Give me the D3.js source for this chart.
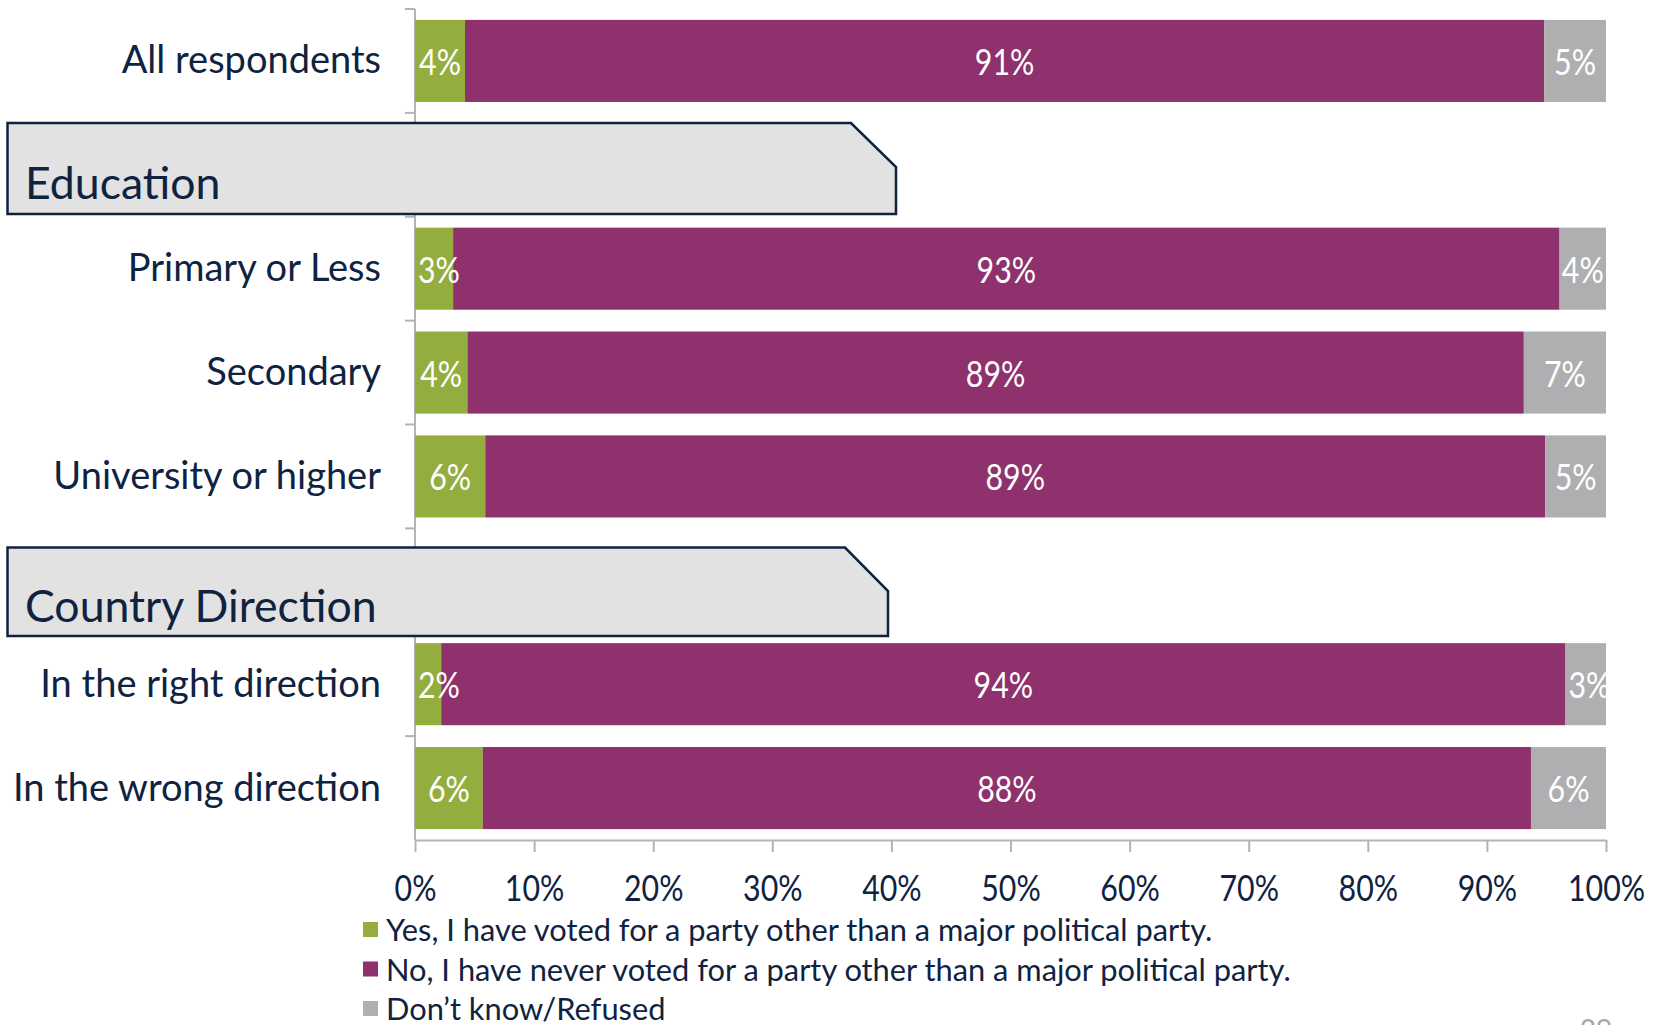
<!DOCTYPE html>
<html><head><meta charset="utf-8">
<script src="https://cdn.jsdelivr.net/npm/d3@7"></script>
<style>body{margin:0;background:#fff;} svg{display:block;}</style>
</head><body>
<svg id="chart" width="1667" height="1025"></svg>
<script>
// ---------- data ----------
const rows = ["All respondents","Education","Primary or Less","Secondary","University or higher","Country Direction","In the right direction","In the wrong direction"];
const headers = ["Education","Country Direction"];
const categories = ["All respondents","Primary or Less","Secondary","University or higher","In the right direction","In the wrong direction"];
const seriesNames = ["Yes, I have voted for a party other than a major political party.","No, I have never voted for a party other than a major political party.","Don’t know/Refused"];
const yesValues = [4.2, 3.2, 4.4, 5.9, 2.2, 5.7];
const noValues  = [90.6, 92.9, 88.7, 89.0, 94.4, 88.0];
const dkValues  = [5.2, 3.9, 6.9, 5.1, 3.4, 6.3];
const tickValues = [0,10,20,30,40,50,60,70,80,90,100];
const pageNumber = "39";

// ---------- style ----------
const colors = ["#93ae3f","#8e316c","#afafb1"];
const navy = "#0f2341";
const gridGray = "#b4b4b6";
const FONT = "Lato, 'Open Sans', sans-serif";
const numScale = 0.82;

const svg = d3.select("#chart");
svg.append("rect").attr("width",1667).attr("height",1025).attr("fill","#fff");

const x = d3.scaleLinear().domain([0,100]).range([415,1606]);
const y = d3.scaleBand().domain(rows).range([9,840]).paddingInner(0.21).paddingOuter(0.105);

const keys = ["yes","no","dk"];
const table = categories.map((c,i)=>({cat:c, yes:yesValues[i], no:noValues[i], dk:dkValues[i]}));
const stacked = d3.stack().keys(keys)(table);

// left axis line + boundary ticks
const step = y.step();
const y0 = y.range()[0];
const boundaries = d3.range(rows.length+1).map(i=>y0 + i*step);
svg.append("line").attr("x1",x(0)).attr("x2",x(0)).attr("y1",y0).attr("y2",y.range()[1])
  .attr("stroke",gridGray).attr("stroke-width",2);
svg.selectAll("line.ltick").data(boundaries.slice(0,-1)).join("line").attr("class","ltick")
  .attr("x1",x(0)-10).attr("x2",x(0)).attr("y1",d=>d).attr("y2",d=>d)
  .attr("stroke",gridGray).attr("stroke-width",2);

// bars
const layers = svg.append("g").selectAll("g").data(stacked).join("g")
  .attr("fill",(d,i)=>colors[i]);
layers.selectAll("rect").data(d=>d).join("rect")
  .attr("x",d=>x(d[0])).attr("width",d=>x(d[1])-x(d[0]))
  .attr("y",d=>y(d.data.cat)).attr("height",y.bandwidth());

// clip for value labels
svg.append("clipPath").attr("id","plotclip").append("rect")
  .attr("x",x(0)).attr("y",0).attr("width",x(100)-x(0)).attr("height",900);
const lab = svg.append("g").attr("clip-path","url(#plotclip)");
stacked.forEach((layer)=>{
  layer.forEach(d=>{
    const v = d[1]-d[0];
    const segX0 = x(d[0]), segX1 = x(d[1]);
    const cy = y(d.data.cat) + y.bandwidth()/2 + 14;
    const t = lab.append("text").text(Math.round(v)+"%")
      .attr("font-family",FONT).attr("font-size",37).attr("fill","#fff");
    const w = t.node().getComputedTextLength()*numScale;
    if (w > segX1-segX0-4) {
      t.attr("text-anchor","start").attr("transform",`translate(${segX0+3},${cy}) scale(${numScale},1)`);
    } else {
      t.attr("text-anchor","middle").attr("transform",`translate(${(segX0+segX1)/2},${cy}) scale(${numScale},1)`);
    }
  });
});

// category labels
svg.append("g").selectAll("text").data(categories).join("text")
  .attr("x",381).attr("y",d=>y(d)+y.bandwidth()/2+12.5)
  .attr("text-anchor","end").attr("font-family",FONT).attr("font-size",38).attr("fill",navy)
  .text(d=>d);

// header boxes
const headerLayout = {
  "Education": {top:123, bottom:214, left:7.5, right:896, cutX:851, cutY:167, base:199},
  "Country Direction": {top:547.5, bottom:636, left:7.5, right:888, cutX:845, cutY:591, base:622}
};
headers.forEach(h=>{
  const L = headerLayout[h];
  svg.append("path")
    .attr("d",`M${L.left},${L.top}H${L.cutX}L${L.right},${L.cutY}V${L.bottom}H${L.left}Z`)
    .attr("fill","#e2e2e2").attr("stroke",navy).attr("stroke-width",2.5).attr("stroke-linejoin","miter");
  svg.append("text").attr("x",25).attr("y",L.base).attr("font-family",FONT).attr("font-size",44.6)
    .attr("fill",navy).text(h);
});

// x axis
const xAxis = svg.append("g").attr("transform",`translate(0,840)`)
  .call(d3.axisBottom(x).tickValues(tickValues).tickFormat(d=>d+"%").tickSize(12).tickSizeOuter(0).tickPadding(20));
xAxis.select(".domain").attr("stroke",gridGray).attr("stroke-width",2);
xAxis.selectAll(".tick line").attr("stroke",gridGray).attr("stroke-width",2);
xAxis.selectAll(".tick text").attr("font-family",FONT).attr("font-size",37).attr("fill",navy)
  .attr("dy",0).attr("y",61).attr("transform",`scale(${numScale},1)`);

// legend
const lg = svg.append("g");
seriesNames.forEach((s,i)=>{
  lg.append("rect").attr("x",363).attr("y",922+i*39.5).attr("width",15).attr("height",15).attr("fill",colors[i]);
  lg.append("text").attr("x",386).attr("y",941+i*39.5).attr("font-family",FONT).attr("font-size",30.8)
    .attr("fill",navy).text(s);
});

// page number (mostly cut off at the bottom edge)
svg.append("text").attr("x",1596).attr("y",1040).attr("text-anchor","middle").attr("font-family",FONT)
  .attr("font-size",28).attr("fill","#a6a6a6").text(pageNumber);
</script>
</body></html>
